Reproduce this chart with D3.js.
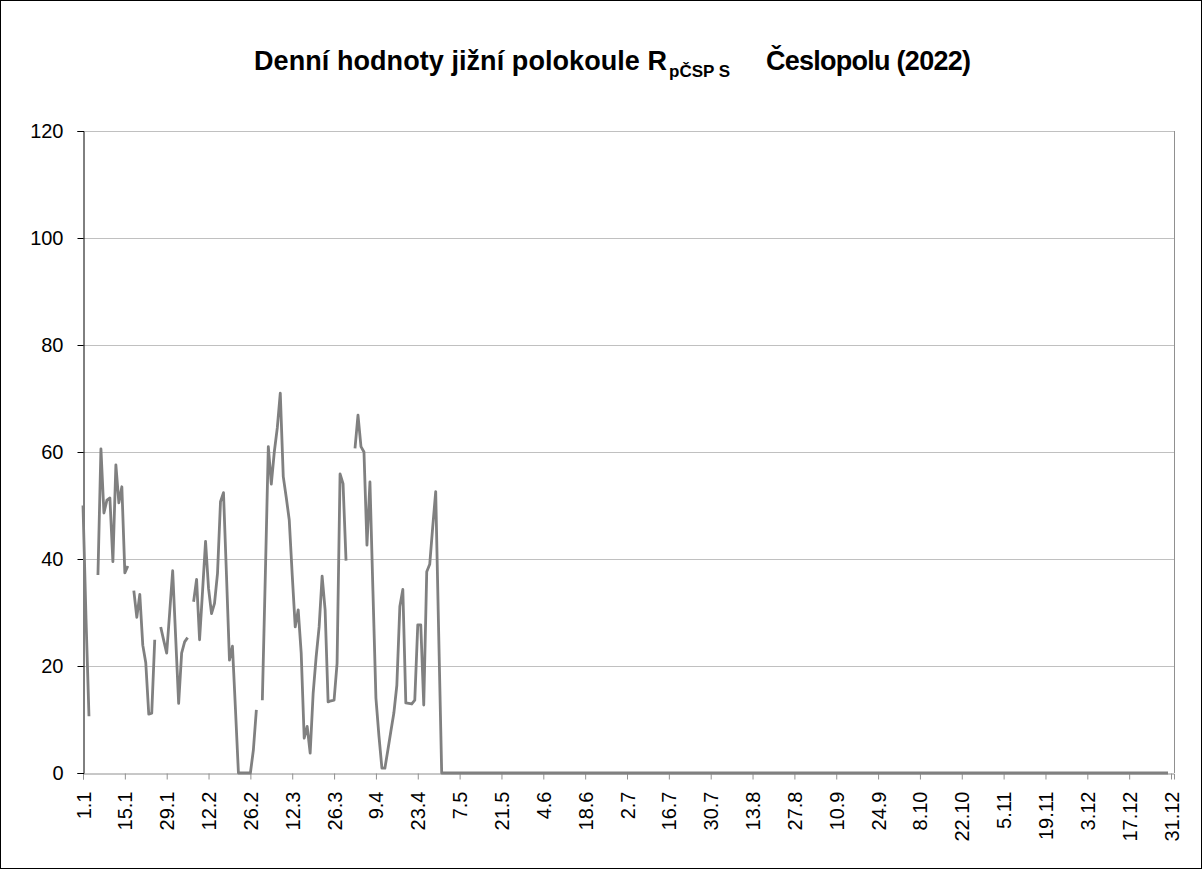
<!DOCTYPE html>
<html>
<head>
<meta charset="utf-8">
<script src="https://cdn.jsdelivr.net/npm/d3@7"></script>
<style>
  body { margin: 0; background: #fff; }
  svg text { font-family: "Liberation Sans", Arial, sans-serif; }
</style>
</head>
<body>
<svg width="1202" height="869"></svg>
<script>
// daily values, index 0 = 1.1.2022, null = no value that day
var values = [
    50, 29, 10.6, null, null, 37, 60.6, 48.6, 51, 51.4,
    39.5, 57.6, 50.5, 53.5, 37.4, 38.7, null, 34.1, 29.1, 33.4,
    23.9, 20.6, 11, 11.2, 24.9, null, 27.3, 24.8, 22.4, 30,
    37.8, 25.4, 13, 22.4, 24.5, 25.3, null, 32, 36.2, 24.9,
    34, 43.3, 34.5, 29.8, 31.7, 37.3, 50.7, 52.4, 37, 21.1,
    23.7, 12, 0, 0, 0, 0, 0, 4.3, 11.8, null,
    13.6, 37, 61, 54, 60, 64.5, 71, 55.4, 51.5, 47.3,
    37, 27.3, 30.5, 22.4, 6.5, 8.7, 3.7, 14.9, 21.7, 27.3,
    36.8, 30.5, 13.3, 13.5, 13.6, 20.5, 55.9, 54.1, 39.7, null,
    null, 60.7, 66.9, 61, 60, 42.6, 54.4, 34, 14, 7,
    0.9, 0.9, 4.3, 7.8, 11.2, 16.4, 31.1, 34.3, 13.1, 13,
    12.9, 13.6, 27.7, 27.7, 12.7, 37.6, 39, 46, 52.6, 26,
    0, 0, 0, 0, 0, 0, 0, 0, 0, 0, 0, 0, 0, 0, 0, 0, 0, 0, 0, 0,
    0, 0, 0, 0, 0, 0, 0, 0, 0, 0, 0, 0, 0, 0, 0, 0, 0, 0, 0, 0,
    0, 0, 0, 0, 0, 0, 0, 0, 0, 0, 0, 0, 0, 0, 0, 0, 0, 0, 0, 0,
    0, 0, 0, 0, 0, 0, 0, 0, 0, 0, 0, 0, 0, 0, 0, 0, 0, 0, 0, 0,
    0, 0, 0, 0, 0, 0, 0, 0, 0, 0, 0, 0, 0, 0, 0, 0, 0, 0, 0, 0,
    0, 0, 0, 0, 0, 0, 0, 0, 0, 0, 0, 0, 0, 0, 0, 0, 0, 0, 0, 0,
    0, 0, 0, 0, 0, 0, 0, 0, 0, 0, 0, 0, 0, 0, 0, 0, 0, 0, 0, 0,
    0, 0, 0, 0, 0, 0, 0, 0, 0, 0, 0, 0, 0, 0, 0, 0, 0, 0, 0, 0,
    0, 0, 0, 0, 0, 0, 0, 0, 0, 0, 0, 0, 0, 0, 0, 0, 0, 0, 0, 0,
    0, 0, 0, 0, 0, 0, 0, 0, 0, 0, 0, 0, 0, 0, 0, 0, 0, 0, 0, 0,
    0, 0, 0, 0, 0, 0, 0, 0, 0, 0, 0, 0, 0, 0, 0, 0, 0, 0, 0, 0,
    0, 0, 0, 0, 0, 0, 0, 0, 0, 0, 0, 0, 0, 0, 0, 0, 0, 0, 0, 0,
    0, 0, 0, 0
];

// x tick labels (every 14 days)
var tickDays = [0, 14, 28, 42, 56, 70, 84, 98, 112, 126, 140, 154, 168, 182,
    196, 210, 224, 238, 252, 266, 280, 294, 308, 322, 336, 350, 364];
var tickLabels = ["1.1", "15.1", "29.1", "12.2", "26.2", "12.3", "26.3", "9.4", "23.4",
    "7.5", "21.5", "4.6", "18.6", "2.7", "16.7", "30.7", "13.8", "27.8", "10.9",
    "24.9", "8.10", "22.10", "5.11", "19.11", "3.12", "17.12", "31.12"];
var yTicks = [0, 20, 40, 60, 80, 100, 120];

var margin = { top: 131, right: 28, bottom: 96, left: 83 };
var width = 1202 - margin.left - margin.right;
var height = 869 - margin.top - margin.bottom;

var svg = d3.select("svg");

// outer frame
svg.append("rect")
    .attr("x", 0.5)
    .attr("y", 0.5)
    .attr("width", 1201)
    .attr("height", 868)
    .attr("fill", "none")
    .attr("stroke", "#000");

var x = d3.scaleLinear().domain([0, 365]).range([0, width]);
var y = d3.scaleLinear().domain([0, 120]).range([height, 0]);

var g = svg.append("g")
    .attr("transform", "translate(" + margin.left + "," + margin.top + ")");

// gridlines
g.selectAll(".grid")
    .data(yTicks.filter(function (d) { return d > 0; }))
    .enter().append("line")
    .attr("class", "grid")
    .attr("x1", 0)
    .attr("x2", width)
    .attr("y1", function (d) { return Math.round(y(d)) + 0.5; })
    .attr("y2", function (d) { return Math.round(y(d)) + 0.5; })
    .attr("stroke", "#c0c0c0")
    .attr("stroke-width", 1);

// right border of the plot area
g.append("line")
    .attr("x1", width + 0.5)
    .attr("x2", width + 0.5)
    .attr("y1", 0)
    .attr("y2", height)
    .attr("stroke", "#909090");

// x axis
var xAxis = g.append("g")
    .attr("transform", "translate(0," + (height + 0.5) + ")")
    .call(d3.axisBottom(x)
        .tickValues(tickDays)
        .tickSize(6)
        .tickPadding(10)
        .tickFormat(function (d, i) { return tickLabels[i]; }));
xAxis.select(".domain").attr("stroke", "#909090");
xAxis.selectAll(".tick line").attr("stroke", "#909090");
xAxis.selectAll(".tick text")
    .attr("font-size", "20px")
    .attr("fill", "#000")
    .attr("transform", "rotate(-90)")
    .attr("text-anchor", "end")
    .attr("x", -18)
    .attr("y", 0)
    .attr("dy", "0.35em");

// y axis
var yAxis = g.append("g")
    .attr("transform", "translate(0.5,0)")
    .call(d3.axisLeft(y)
        .tickValues(yTicks)
        .tickSize(6)
        .tickPadding(14)
        .tickFormat(d3.format("d")));
yAxis.select(".domain").attr("stroke", "#000");
yAxis.selectAll(".tick line").attr("stroke", "#000");
yAxis.selectAll(".tick text")
    .attr("font-size", "20px")
    .attr("fill", "#000");

// data line
var line = d3.line()
    .defined(function (d) { return d !== null; })
    .x(function (d, i) { return x(i); })
    .y(function (d) { return y(d); });

g.append("path")
    .datum(values)
    .attr("fill", "none")
    .attr("stroke", "#808080")
    .attr("stroke-width", 2.8)
    .attr("stroke-linejoin", "round")
    .attr("d", line);

// title
var title = svg.append("g")
    .attr("font-weight", "bold")
    .attr("fill", "#000");
title.append("text")
    .attr("x", 254)
    .attr("y", 70)
    .attr("font-size", "27px")
    .attr("textLength", 413)
    .text("Denní hodnoty jižní polokoule R");
title.append("text")
    .attr("x", 669)
    .attr("y", 77)
    .attr("font-size", "17px")
    .text("pČSP S");
title.append("text")
    .attr("x", 766)
    .attr("y", 70)
    .attr("font-size", "27px")
    .attr("textLength", 205)
    .text("Česlopolu (2022)");
</script>
</body>
</html>
